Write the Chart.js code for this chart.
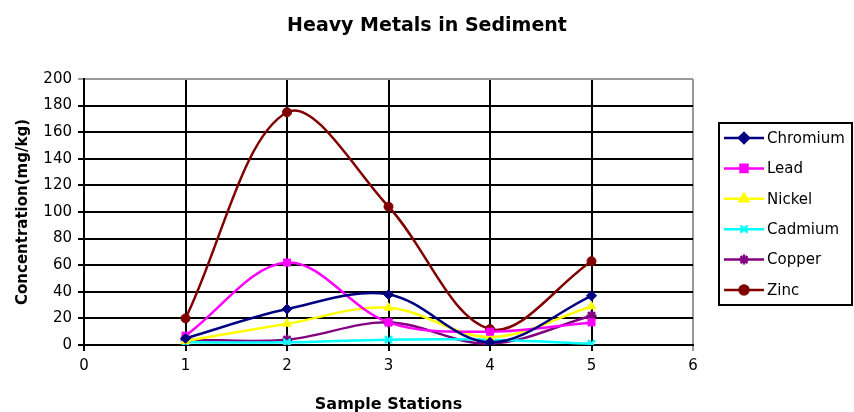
<!DOCTYPE html>
<html>
<head>
<meta charset="utf-8">
<title>Heavy Metals in Sediment</title>
<script src="https://cdn.jsdelivr.net/npm/chart.js"></script>
<style>
  html, body { margin: 0; padding: 0; background: #fff; }
  #wrap { width: 854px; height: 412px; position: relative; }
</style>
</head>
<body>
<div id="wrap"><canvas id="chart"></canvas></div>
<script>
const stations = [1, 2, 3, 4, 5];
const chromium = [5, 27, 38, 2, 37];
const lead = [7, 62, 17, 10, 17];
const nickel = [3, 16, 28, 6, 29];
const cadmium = [2, 2, 4, 4, 1];
const copper = [4, 4, 17, 1, 22];
const zinc = [20, 175, 104, 12, 63];

const xTicks = [0, 1, 2, 3, 4, 5, 6];
const yTicks = [0, 20, 40, 60, 80, 100, 120, 140, 160, 180, 200];

const font = "'DejaVu Sans', Verdana, sans-serif";

function series(label, values, color, style, radius) {
  return {
    label: label,
    data: stations.map((s, i) => ({ x: s, y: values[i] })),
    borderColor: color,
    backgroundColor: color,
    pointBackgroundColor: color,
    pointBorderColor: color,
    pointStyle: style,
    pointRadius: radius,
    pointBorderWidth: style === "crossRot" || style === "star" ? 2.5 : 1,
    borderWidth: 2.5,
    tension: 0.35,
  };
}

const datasets = [
  series("Chromium", chromium, "#000080", "rectRot", 5),
  series("Lead", lead, "#ff00ff", "rect", 5),
  series("Nickel", nickel, "#ffff00", "triangle", 5),
  series("Cadmium", cadmium, "#00ffff", "crossRot", 5),
  series("Copper", copper, "#800080", "star", 5),
  series("Zinc", zinc, "#800000", "circle", 4.5),
];

// title and boxed legend, drawn like the spreadsheet original
const decor = {
  id: "decor",
  afterDraw(chart) {
    const ctx = chart.ctx;
    ctx.save();
    ctx.fillStyle = "#000";
    ctx.font = "bold 19px " + font;
    ctx.textAlign = "center";
    ctx.textBaseline = "middle";
    ctx.fillText("Heavy Metals in Sediment", 427, 26);

    const bx = 719, by = 123, bw = 133, bh = 182;
    ctx.lineWidth = 2;
    ctx.strokeStyle = "#000";
    ctx.strokeRect(bx, by, bw, bh);

    ctx.font = "15px " + font;
    ctx.textAlign = "left";
    chart.data.datasets.forEach((ds, i) => {
      const y = 138 + i * 30.4;
      ctx.strokeStyle = ds.borderColor;
      ctx.fillStyle = ds.borderColor;
      ctx.lineWidth = 2.5;
      ctx.beginPath();
      ctx.moveTo(724, y);
      ctx.lineTo(764, y);
      ctx.stroke();
      Chart.helpers.drawPoint(ctx, {
        pointStyle: ds.pointStyle,
        radius: ds.pointRadius,
        rotation: 0,
        borderWidth: ds.pointBorderWidth,
      }, 744, y);
      ctx.fillStyle = "#000";
      ctx.fillText(ds.label, 767, y + 1);
    });
    ctx.restore();
  },
};

new Chart(document.getElementById("chart"), {
  type: "line",
  data: { datasets: datasets },
  options: {
    responsive: true,
    maintainAspectRatio: false,
    animation: false,
    layout: { padding: { top: 79, right: 161, left: 0, bottom: 0 } },
    plugins: {
      legend: { display: false },
      title: { display: false },
      tooltip: { enabled: false },
    },
    scales: {
      x: {
        type: "linear",
        min: 0,
        max: 6,
        afterFit(scale) { scale.height = 67; },
        afterBuildTicks(scale) { scale.ticks = xTicks.map((v) => ({ value: v })); },
        ticks: { color: "#000", font: { family: font, size: 15 }, padding: 6 },
        grid: {
          color: (c) => (c.tick && c.tick.value === 6 ? "#999" : "#000"),
          lineWidth: 2,
          tickLength: 6,
        },
        border: { color: "#000", width: 2 },
        title: {
          display: true,
          text: "Sample Stations",
          color: "#000",
          font: { family: font, size: 16, weight: "bold" },
          padding: { top: 26, bottom: -2 },
        },
      },
      y: {
        min: 0,
        max: 200,
        afterFit(scale) { scale.width = 84; },
        afterBuildTicks(scale) { scale.ticks = yTicks.map((v) => ({ value: v })); },
        ticks: { color: "#000", font: { family: font, size: 15 }, padding: 6 },
        grid: {
          color: (c) => (c.tick && c.tick.value === 200 ? "#999" : "#000"),
          lineWidth: 2,
          tickLength: 6,
        },
        border: { color: "#000", width: 2 },
        title: {
          display: true,
          text: "Concentration(mg/kg)",
          color: "#000",
          font: { family: font, size: 15, weight: "bold" },
          padding: { top: 14, bottom: 4 },
        },
      },
    },
  },
  plugins: [decor],
});
</script>
</body>
</html>
